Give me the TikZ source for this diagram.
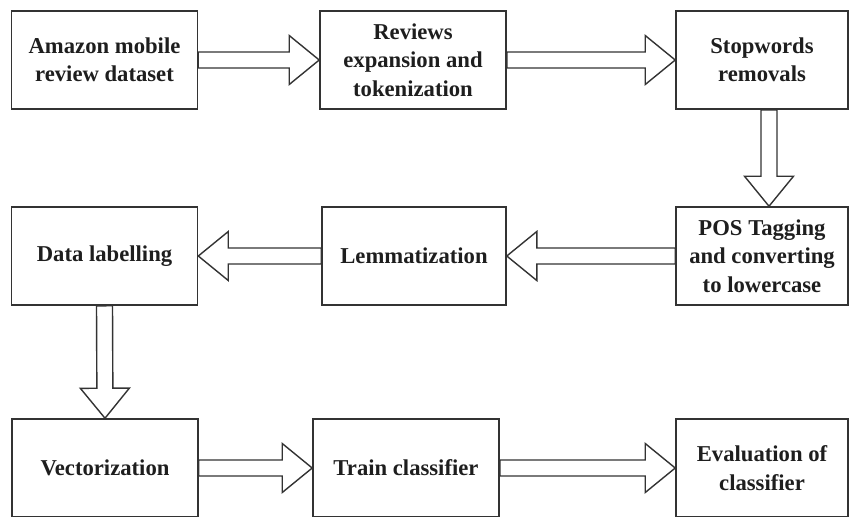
\documentclass[tikz,border=0pt]{standalone}
\usepackage{fontspec}
\setmainfont{Liberation Serif}
\usetikzlibrary{calc}
\definecolor{boxline}{HTML}{333333}
\definecolor{boxtext}{HTML}{1E1E1E}
\tikzset{
  stage/.style={draw=boxline,line width=0.9pt,align=center,inner sep=0pt,
    minimum width=3.72cm,minimum height=1.96cm,text=boxtext,
    font=\fontsize{12.9}{16.1}\selectfont\bfseries},
  fat/.style={draw=boxline,line width=0.8pt,line join=miter,to path={
    ($(\tikztostart)!0.16cm!90:(\tikztotarget)$)
    -- ($(\tikztotarget)!0.6cm!(\tikztostart)!0.16cm!90:(\tikztotarget)$)
    -- ($(\tikztotarget)!0.6cm!(\tikztostart)!0.49cm!90:(\tikztotarget)$)
    -- (\tikztotarget)
    -- ($(\tikztotarget)!0.6cm!(\tikztostart)!0.49cm!-90:(\tikztotarget)$)
    -- ($(\tikztotarget)!0.6cm!(\tikztostart)!0.16cm!-90:(\tikztotarget)$)
    -- ($(\tikztostart)!0.16cm!-90:(\tikztotarget)$) -- cycle}}
}
\begin{document}
\begin{tikzpicture}
\useasboundingbox (0,0) rectangle (16.98,-10.32);
\node[stage] (a) at (2.09,-1.20) {Amazon mobile\\review dataset};
\node[stage] (b) at (8.26,-1.20) {Reviews\\expansion and\\tokenization};
\node[stage,minimum width=3.44cm] (c) at (15.24,-1.20) {Stopwords\\removals};
\node[stage,minimum width=3.44cm] (f) at (15.24,-5.12) {POS Tagging\\and converting\\to lowercase};
\node[stage,minimum width=3.68cm] (e) at (8.28,-5.12) {Lemmatization};
\node[stage] (d) at (2.09,-5.12) {Data labelling};
\node[stage] (g) at (2.10,-9.36) {Vectorization};
\node[stage] (h) at (8.12,-9.36) {Train classifier};
\node[stage,minimum width=3.44cm] (i) at (15.24,-9.36) {Evaluation of\\classifier};
\draw[fat] (a.east) to (b.west);
\draw[fat] (b.east) to (c.west);
\draw[fat] ([xshift=0.14cm]c.south) to ([xshift=0.14cm]f.north);
\draw[fat] (f.west) to (e.east);
\draw[fat] (e.west) to (d.east);
\draw[fat] (d.south) to (g.north);
\draw[fat] (g.east) to (h.west);
\draw[fat] (h.east) to (i.west);
\end{tikzpicture}
\end{document}
